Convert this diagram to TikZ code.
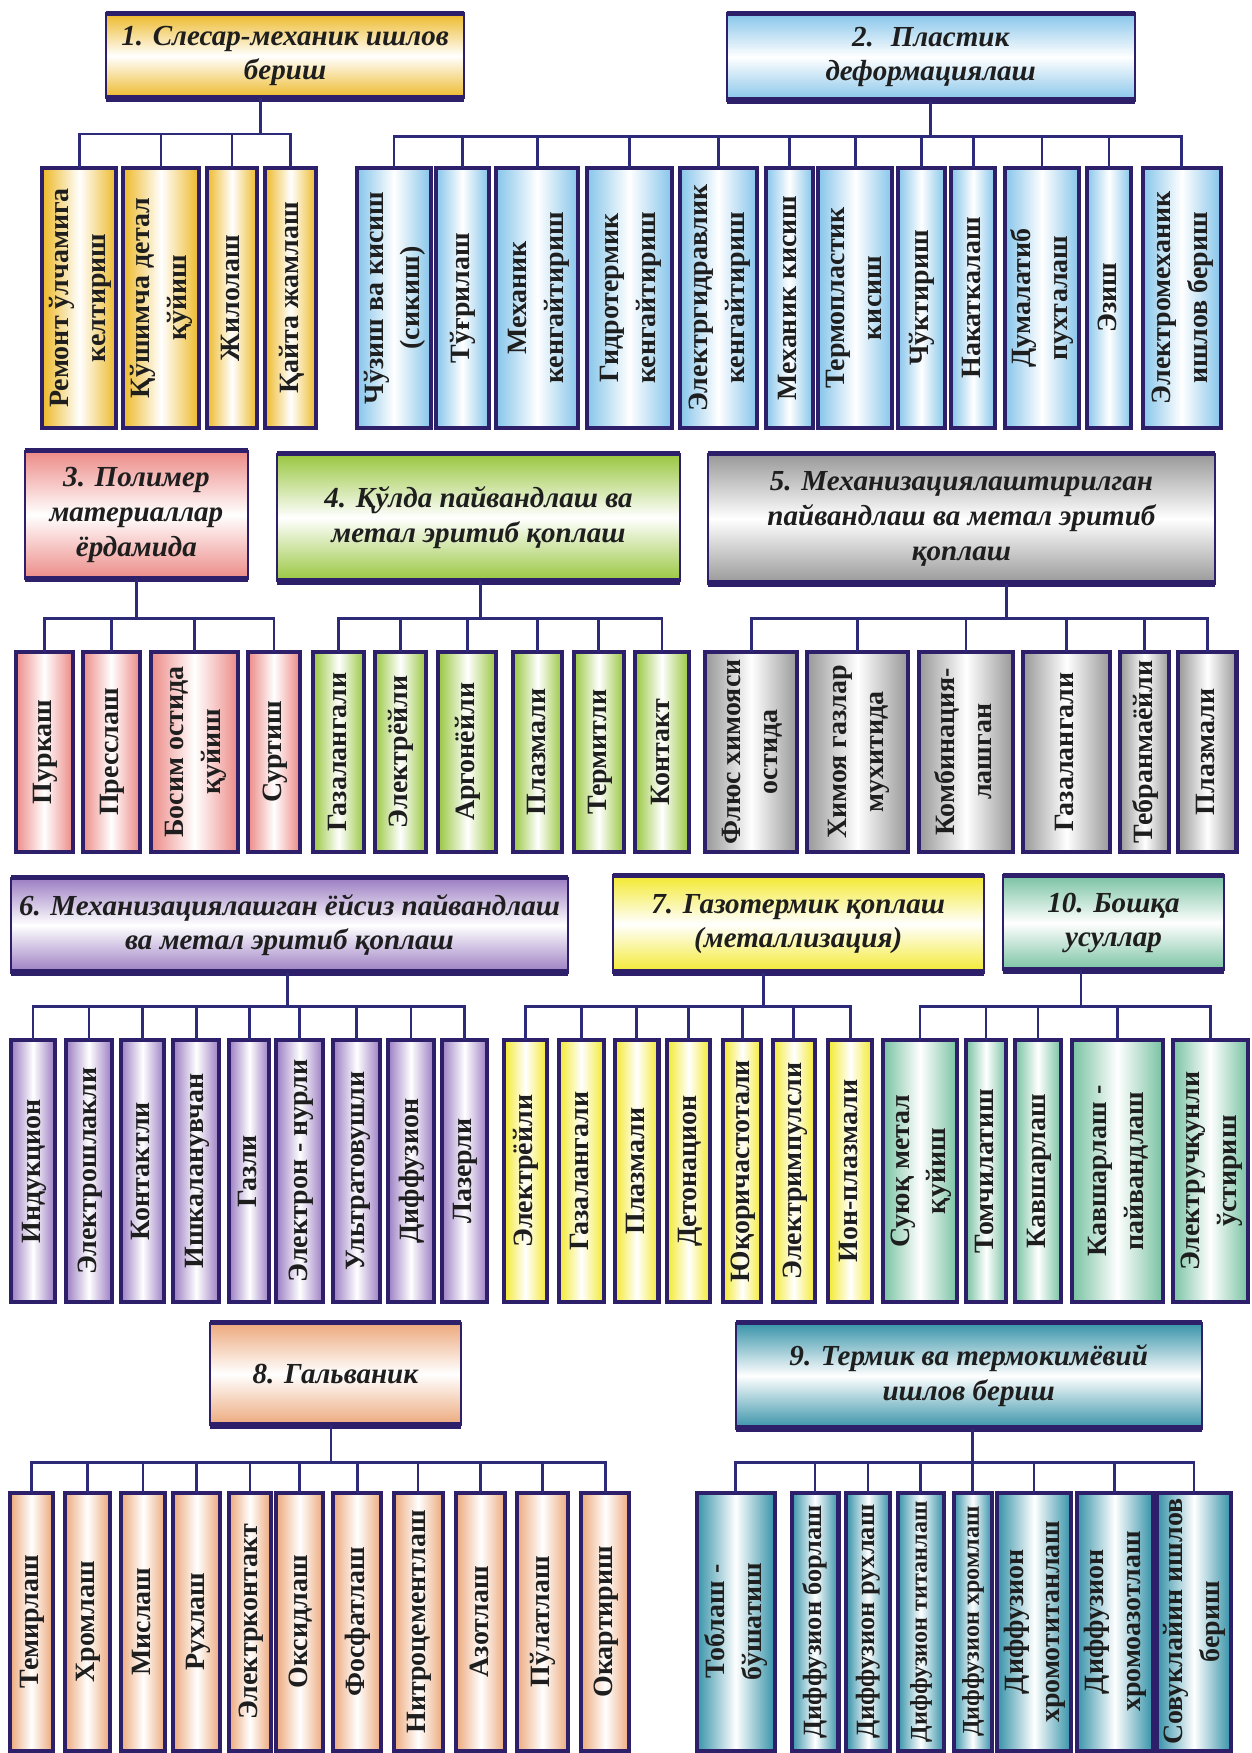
\documentclass[tikz,border=0pt]{standalone}
\usepackage{fontspec}
\usepackage{graphicx}
\setmainfont{Liberation Serif}
\definecolor{bord}{HTML}{2E1F6B}
\definecolor{lineC}{HTML}{2E2A7A}
\definecolor{txtC}{HTML}{1E1E1E}
\definecolor{cGold}{HTML}{EDB928}
\definecolor{cBlue}{HTML}{86C5EA}
\definecolor{cPink}{HTML}{EC8A86}
\definecolor{cGreen}{HTML}{98C63E}
\definecolor{cGrey}{HTML}{989898}
\definecolor{cPurple}{HTML}{9A7CC2}
\definecolor{cYellow}{HTML}{F3E92E}
\definecolor{cTeal}{HTML}{78C2A2}
\definecolor{cPeach}{HTML}{ECA87B}
\definecolor{cTBlue}{HTML}{3592A8}
\newcommand\kidfont{\bfseries\fontsize{12.5}{16.5}\selectfont}
\newcommand\kidmid{\bfseries\fontsize{11.8}{15}\selectfont}
\newcommand\kidsmall{\bfseries\fontsize{10.8}{14}\selectfont}
\newcommand\hdrfont{\bfseries\itshape\fontsize{13}{15.5}\selectfont}
\tikzset{
  kid/.style={draw=bord, line width=1.8pt, inner sep=0pt, outer sep=0pt, text=txtC, anchor=center},
  hdr/.style={draw=bord, line width=0.9pt, inner sep=0pt, outer sep=0pt, align=center, font=\hdrfont, text=txtC, anchor=center},
  hbar/.style={draw=bord, line width=2.2pt},
  hbarb/.style={draw=bord, line width=3pt},
  conn/.style={draw=lineC, line width=1.2pt}
}
% name, x1, x2, y1, y2, colour, text (font macro as optional first argument)
\newcommand\kidbox[8][\kidfont]{\node[kid, left color=#7, right color=#7, middle color=white,
  minimum width={(#4-#3)*0.5pt}, minimum height={(#6-#5)*0.5pt}] (#2) at ({(#3+#4)/2},{(#5+#6)/2})
  {\rotatebox{90}{#1\begin{tabular}{@{}c@{}}#8\end{tabular}}};}
\newcommand\hdrbox[7]{\node[hdr, top color=#6, bottom color=#6, middle color=white,
  minimum width={(#3-#2)*0.5pt}, minimum height={(#5-#4)*0.5pt}] (#1) at ({(#2+#3)/2},{(#4+#5)/2}) {#7};
  \draw[hbar] (#1.north west) -- (#1.north east);
  \draw[hbarb] (#1.south west) -- (#1.south east);}
\newcommand\tree[3]{\draw[conn] (#1.south -| #2) -- (#2);
  \foreach \k in {#3} {\draw[conn] (#2) -| (\k.north);}}
\begin{document}
\begin{tikzpicture}[x=0.5pt, y=-0.5pt]
\useasboundingbox (0,0) rectangle (1119,1568);
\fill[white] (0,0) rectangle (1119,1568);
% ---------- row 1
\hdrbox{H1}{95}{415}{12}{88}{cGold}{1. Слесар-механик ишлов\\бериш}
\hdrbox{H2}{650}{1015}{12}{90}{cBlue}{2.~ Пластик\\деформациялаш}
\kidbox{A1}{40}{102}{150}{383}{cGold}{Ремонт ўлчамига\\келтириш}
\kidbox{A2}{110}{178}{150}{383}{cGold}{Қўшимча детал\\қўйиш}
\kidbox{A3}{185}{230}{150}{383}{cGold}{Жилолаш}
\kidbox{A4}{237}{283}{150}{383}{cGold}{Қайта жамлаш}
\kidbox{B1}{322}{383}{150}{383}{cBlue}{Чўзиш ва кисиш\\(сикиш)}
\kidbox{B2}{390}{437}{150}{383}{cBlue}{Тўғрилаш}
\kidbox{B3}{444}{517}{150}{383}{cBlue}{Механик\\кенгайтириш}
\kidbox{B4}{525}{601}{150}{383}{cBlue}{Гидротермик\\кенгайтириш}
\kidbox{B5}{608}{677}{150}{383}{cBlue}{Электргидравлик\\кенгайтириш}
\kidbox{B6}{685}{727}{150}{383}{cBlue}{Механик кисиш}
\kidbox{B7}{733}{797}{150}{383}{cBlue}{Термопластик\\кисиш}
\kidbox{B8}{803}{845}{150}{383}{cBlue}{Чўктириш}
\kidbox{B9}{851}{890}{150}{383}{cBlue}{Накаткалаш}
\kidbox{B10}{900}{964}{150}{383}{cBlue}{Думалатиб\\пухталаш}
\kidbox{B11}{972}{1012}{150}{383}{cBlue}{Эзиш}
\kidbox{B12}{1022}{1092}{150}{383}{cBlue}{Электромеханик\\ишлов бериш}
\coordinate (U1) at (233,120);
\coordinate (U2) at (832,122);
\tree{H1}{U1}{A1,A2,A3,A4}
\tree{H2}{U2}{B1,B2,B3,B4,B5,B6,B7,B8,B9,B10,B11,B12}
% ---------- row 2
\hdrbox{H3}{22}{222}{403}{518}{cPink}{3. Полимер\\материаллар\\ёрдамида}
\hdrbox{H4}{248}{608}{406}{520}{cGreen}{4. Қўлда пайвандлаш ва\\метал эритиб қоплаш}
\hdrbox{H5}{633}{1087}{406}{522}{cGrey}{5. Механизациялаштирилган\\пайвандлаш ва метал эритиб\\қоплаш}
\kidbox{C1}{14}{65}{583}{762}{cPink}{Пуркаш}
\kidbox{C2}{74}{125}{583}{762}{cPink}{Пресслаш}
\kidbox{C3}{135}{213}{583}{762}{cPink}{Босим остида\\қуйиш}
\kidbox{C4}{222}{268}{583}{762}{cPink}{Суртиш}
\kidbox{D1}{280}{326}{583}{762}{cGreen}{Газалангали}
\kidbox{D2}{335}{381}{583}{762}{cGreen}{Электрёйли}
\kidbox{D3}{392}{444}{583}{762}{cGreen}{Аргонёйли}
\kidbox{D4}{459}{503}{583}{762}{cGreen}{Плазмали}
\kidbox{D5}{513}{558}{583}{762}{cGreen}{Термитли}
\kidbox{D6}{568}{616}{583}{762}{cGreen}{Контакт}
\kidbox{E1}{631}{713}{583}{762}{cGrey}{Флюс химояси\\остида}
\kidbox{E2}{722}{812}{583}{762}{cGrey}{Химоя газлар\\мухитида}
\kidbox{E3}{822}{906}{583}{762}{cGrey}{Комбинация-\\лашган}
\kidbox{E4}{915}{993}{583}{762}{cGrey}{Газалангали}
\kidbox{E5}{1002}{1046}{583}{762}{cGrey}{Тебранмаёйли}
\kidbox{E6}{1054}{1106}{583}{762}{cGrey}{Плазмали}
\coordinate (U3) at (122,553);
\coordinate (U4) at (430,553);
\coordinate (U5) at (900,553);
\tree{H3}{U3}{C1,C2,C3,C4}
\tree{H4}{U4}{D1,D2,D3,D4,D5,D6}
\tree{H5}{U5}{E1,E2,E3,E4,E5,E6}
% ---------- row 3
\hdrbox{H6}{10}{508}{785}{870}{cPurple}{6. Механизациялашган ёйсиз пайвандлаш\\ва метал эритиб қоплаш}
\hdrbox{H7}{548}{880}{783}{870}{cYellow}{7. Газотермик қоплаш\\(металлизация)}
\hdrbox{H10}{897}{1095}{783}{868}{cTeal}{10. Бошқа\\усуллар}
\kidbox{F1}{10}{49}{930}{1165}{cPurple}{Индукцион}
\kidbox{F2}{59}{100}{930}{1165}{cPurple}{Электрошлакли}
\kidbox{F3}{108}{147}{930}{1165}{cPurple}{Контактли}
\kidbox{F4}{155}{196}{930}{1165}{cPurple}{Ишкаланувчан}
\kidbox{F5}{205}{241}{930}{1165}{cPurple}{Газли}
\kidbox{F6}{247}{289}{930}{1165}{cPurple}{Электрон - нурли}
\kidbox{F7}{298}{340}{930}{1165}{cPurple}{Ультратовушли}
\kidbox{F8}{347}{388}{930}{1165}{cPurple}{Диффузион}
\kidbox{F9}{395}{436}{930}{1165}{cPurple}{Лазерли}
\kidbox{G1}{451}{489}{930}{1165}{cYellow}{Электрёйли}
\kidbox{G2}{500}{540}{930}{1165}{cYellow}{Газалангали}
\kidbox{G3}{550}{589}{930}{1165}{cYellow}{Плазмали}
\kidbox{G4}{597}{635}{930}{1165}{cYellow}{Детонацион}
\kidbox{G5}{647}{681}{930}{1165}{cYellow}{Юқоричастотали}
\kidbox{G6}{691}{729}{930}{1165}{cYellow}{Электримпулсли}
\kidbox{G7}{741}{780}{930}{1165}{cYellow}{Ион-плазмали}
\kidbox{T1}{792}{854}{930}{1165}{cTeal}{Суюқ метал\\қуйиш}
\kidbox{T2}{864}{900}{930}{1165}{cTeal}{Томчилатиш}
\kidbox{T3}{908}{949}{930}{1165}{cTeal}{Кавшарлаш}
\kidbox{T4}{959}{1040}{930}{1165}{cTeal}{Кавшарлаш -\\пайвандлаш}
\kidbox{T5}{1049}{1116}{930}{1165}{cTeal}{Электручқунли\\ўстириш}
\coordinate (U6) at (257,900);
\coordinate (U7) at (683,900);
\coordinate (U10) at (967,900);
\tree{H6}{U6}{F1,F2,F3,F4,F5,F6,F7,F8,F9}
\tree{H7}{U7}{G1,G2,G3,G4,G5,G6,G7}
\tree{H10}{U10}{T1,T2,T3,T4,T5}
% ---------- row 4
\hdrbox{H8}{188}{412}{1183}{1275}{cPeach}{8. Гальваник}
\hdrbox{H9}{658}{1075}{1183}{1278}{cTBlue}{9. Термик ва термокимёвий\\ишлов бериш}
\kidbox{P1}{9}{47}{1335}{1566}{cPeach}{Темирлаш}
\kidbox{P2}{58}{98}{1335}{1566}{cPeach}{Хромлаш}
\kidbox{P3}{108}{148}{1335}{1566}{cPeach}{Мислаш}
\kidbox{P4}{155}{197}{1335}{1566}{cPeach}{Рухлаш}
\kidbox{P5}{205}{242}{1335}{1566}{cPeach}{Электрконтакт}
\kidbox{P6}{247}{289}{1335}{1566}{cPeach}{Оксидлаш}
\kidbox{P7}{298}{341}{1335}{1566}{cPeach}{Фосфатлаш}
\kidbox{P8}{352}{396}{1335}{1566}{cPeach}{Нитроцементлаш}
\kidbox{P9}{408}{452}{1335}{1566}{cPeach}{Азотлаш}
\kidbox{P10}{462}{508}{1335}{1566}{cPeach}{Пўлатлаш}
\kidbox{P11}{520}{563}{1335}{1566}{cPeach}{Окартириш}
\kidbox{Q1}{623}{693}{1335}{1566}{cTBlue}{Тоблаш -\\бўшатиш}
\kidbox[\kidmid]{Q2}{708}{750}{1335}{1566}{cTBlue}{Диффузион борлаш}
\kidbox[\kidmid]{Q3}{757}{796}{1335}{1566}{cTBlue}{Диффузион рухлаш}
\kidbox[\kidsmall]{Q4}{803}{844}{1335}{1566}{cTBlue}{Диффузион титанлаш}
\kidbox[\kidsmall]{Q5}{853}{887}{1335}{1566}{cTBlue}{Диффузион хромлаш}
\kidbox{Q6}{895}{955}{1335}{1566}{cTBlue}{Диффузион\\хромотитанлаш}
\kidbox{Q7}{963}{1031}{1335}{1566}{cTBlue}{Диффузион\\хромоазотлаш}
\kidbox{Q8}{1038}{1098}{1335}{1566}{cTBlue}{Совуклайин ишлов\\бериш}
\coordinate (U8) at (296,1308);
\coordinate (U9) at (870,1308);
\tree{H8}{U8}{P1,P2,P3,P4,P5,P6,P7,P8,P9,P10,P11}
\tree{H9}{U9}{Q1,Q2,Q3,Q4,Q5,Q6,Q7,Q8}
\end{tikzpicture}
\end{document}
